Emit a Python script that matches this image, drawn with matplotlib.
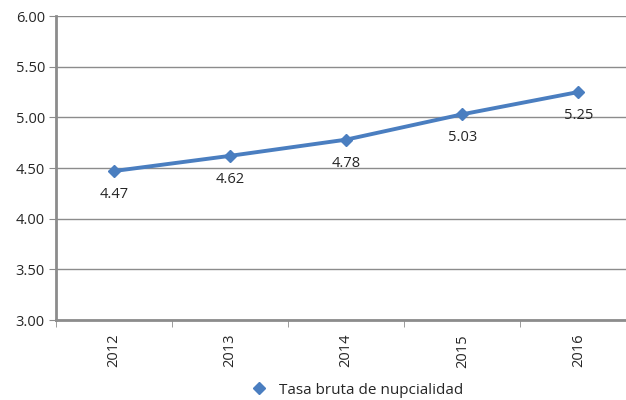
import matplotlib.pyplot as plt
from matplotlib.lines import Line2D

plt.rcParams['font.family'] = ['Open Sans', 'DejaVu Sans']

years = ['2012', '2013', '2014', '2015', '2016']
tasa = [4.47, 4.62, 4.78, 5.03, 5.25]
series_name = 'Tasa bruta de nupcialidad'

line_color = '#4A7EC0'
grid_color = '#8C8C8C'
text_color = '#262626'

fig = plt.figure(figsize=(6.26, 4.0), dpi=100)
ax = fig.add_axes([56 / 626, 0.2, (626 - 56) / 626, 0.76])

x = list(range(len(years)))
ax.plot(x, tasa, color=line_color, linewidth=2.8, marker='D', markersize=6.5,
        zorder=3, clip_on=False)

for xi, v in zip(x, tasa):
    ax.annotate(f'{v:.2f}', (xi, v), xytext=(0, -17), textcoords='offset points',
                ha='center', va='center', fontsize=10.5, color=text_color)

ax.set_ylim(3.0, 6.0)
ax.set_yticks([3.0, 3.5, 4.0, 4.5, 5.0, 5.5, 6.0])
ax.set_yticklabels([f'{t:.2f}' for t in ax.get_yticks()])
ax.set_xlim(-0.5, 4.41)
ax.set_xticks(x)
ax.set_xticklabels(years, rotation=90)
ax.set_xticks([i + 0.5 for i in range(-1, len(years) - 1)], minor=True)

ax.grid(axis='y', color=grid_color, linewidth=1)
ax.set_axisbelow(True)
for s in ['top', 'right']:
    ax.spines[s].set_visible(False)
ax.spines['left'].set_color(grid_color)
ax.spines['left'].set_linewidth(2)
ax.spines['bottom'].set_color(grid_color)
ax.spines['bottom'].set_linewidth(2)

ax.tick_params(axis='y', length=5, color=grid_color, labelsize=10.5,
               labelcolor=text_color, pad=3)
ax.tick_params(axis='x', which='major', length=0, labelsize=10.5,
               labelcolor=text_color, pad=10)
ax.tick_params(axis='x', which='minor', length=5, color=grid_color)

handle = Line2D([], [], color=line_color, marker='D', linestyle='none', markersize=6.5)
fig.legend([handle], [series_name], loc='center', bbox_to_anchor=(0.565, 1 - 390 / 400),
           frameon=False, fontsize=11, handletextpad=0.3, labelcolor=text_color)

fig.savefig('out.png', dpi=100)
